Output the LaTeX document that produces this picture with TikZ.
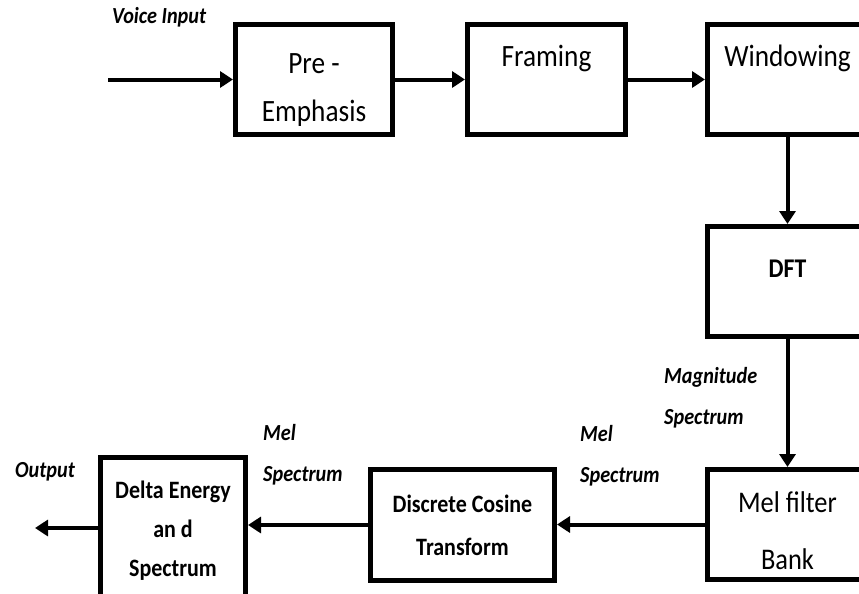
\documentclass[tikz,border=0pt]{standalone}
\usepackage{fontspec}
\setmainfont[FakeStretch=0.88]{Carlito}
\usetikzlibrary{arrows.meta, positioning}

\begin{document}
\begin{tikzpicture}[
  x=1pt, y=-1pt,
  box/.style={draw, line width=5pt, minimum width=157pt, minimum height=110pt,
              align=center, inner sep=0pt, font=\fontsize{31}{48}\selectfont},
  boldbox/.style={box, font=\fontsize{25}{40}\selectfont\bfseries},
  arr/.style={-{Triangle[length=13pt, width=16pt]}, line width=4pt},
  lbl/.style={font=\fontsize{23}{41}\selectfont\bfseries\itshape, align=left,
              inner sep=0pt, anchor=west}
]
\useasboundingbox (0,0) rectangle (859,594);
\clip (0,0) rectangle (859,594);

% top row
\node[box] (prem) at (314,79.5) {\rule{0pt}{40pt}Pre -\\Emphasis};
\node[box, minimum width=158pt] (fram) at (546.5,79.5) {Framing\\\mbox{}};
\node[box, minimum width=160pt] (wind) at (787.5,79.5) {Windowing\\\mbox{}};

% right column
\node[box, minimum width=160pt, font=\fontsize{27}{26}\selectfont\bfseries] (dft) at (787.5,281.5) {DFT\\\mbox{}};
\node[box, minimum width=160pt, font=\fontsize{30}{57}\selectfont] (mel) at (787.5,524.5) {\rule{0pt}{33pt}Mel filter\\Bank};

% bottom row
\node[boldbox, minimum width=184pt, minimum height=111pt, font=\fontsize{25}{43}\selectfont\bfseries] (dct) at (462.5,525) {Discrete Cosine\\Transform};
\node[boldbox, minimum width=145pt, minimum height=141pt, font=\fontsize{25}{39}\selectfont\bfseries] (delta) at (173,528) {\rule{0pt}{22pt}Delta Energy\\an d\\Spectrum};

\coordinate (vin) at (108,79.5);
\coordinate (vout) at (35,528);

% labels
\node[lbl] (vinlbl) at (112,17) {Voice Input};
\node[lbl] (maglbl) at (664,398) {Magnitude\\Spectrum};
\node[lbl] (melalbl) at (580,456) {Mel\\Spectrum};
\node[lbl] (melblbl) at (263,455) {Mel\\Spectrum};
\node[lbl] (voutlbl) at (15,472) {Output};

\draw[arr] (vin) -- (prem);
\draw[arr] (prem) -- (fram);
\draw[arr] (fram) -- (wind);
\draw[arr] (wind) -- (dft);
\draw[arr] (dft) -- (mel);
\draw[arr] (mel) -- (mel -| dct.east);
\draw[arr] (dct.west) -- (dct.west -| delta.east);
\draw[arr] (delta) -- (vout);
\end{tikzpicture}
\end{document}
